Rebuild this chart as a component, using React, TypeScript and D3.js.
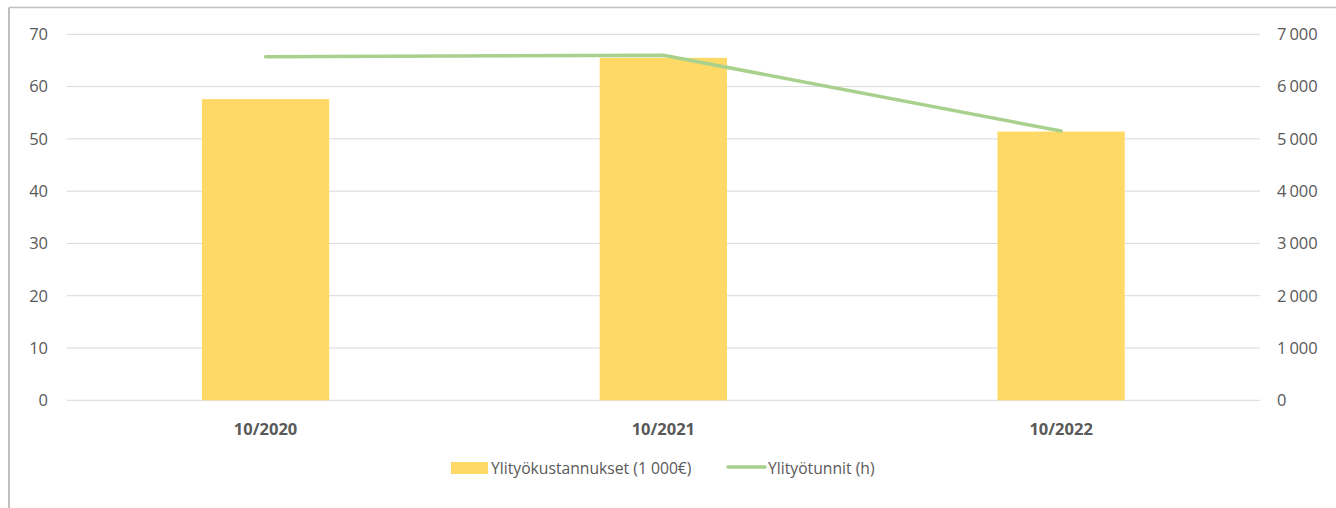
import React from 'react';
import * as d3 from 'd3';

const categories = ['10/2020', '10/2021', '10/2022'];
const costs = [57.6, 65.5, 51.4];
const hours = [6570, 6600, 5150];
const leftTicks = [0, 10, 20, 30, 40, 50, 60, 70];
const rightTicks = [0, 1000, 2000, 3000, 4000, 5000, 6000, 7000];
const seriesNames = ['Ylityökustannukset (1 000€)', 'Ylityötunnit (h)'];

const W = 1336;
const H = 508;
const FONT = "'Segoe UI', 'Open Sans', 'Noto Sans', sans-serif";
const GREY = '#595959';

export default function App() {
  const left = 66.7, right = 1260, top = 34.3, bottom = 400.3;

  const x = d3.scaleBand().domain(categories).range([left, right]).paddingInner(0.68).paddingOuter(0.34);
  const yL = d3.scaleLinear().domain([0, 70]).range([bottom, top]);
  const yR = d3.scaleLinear().domain([0, 7000]).range([bottom, top]);

  const line = d3.line<number>()
    .x((_, i) => x(categories[i])! + x.bandwidth() / 2)
    .y(d => yR(d));

  // thousands part split off so the gap can be a bit wider, like the original
  const rightLabel = (t: number) => {
    if (t < 1000) return <tspan>{t}</tspan>;
    const head = Math.floor(t / 1000);
    const tail = d3.format('03')(t % 1000);
    return (<><tspan>{head}</tspan><tspan dx={3}>{tail}</tspan></>);
  };

  return (
    <svg width={W} height={H} style={{ position: 'absolute', left: 0, top: 0 }} fontFamily={FONT}>
      <rect x={0} y={0} width={W} height={H} fill="#fff" />
      <line x1={9} x2={W} y1={7.5} y2={7.5} stroke="#bfbfbf" strokeWidth={1.5} />
      <line x1={9} x2={9} y1={7.5} y2={H} stroke="#bfbfbf" strokeWidth={2} />

      {leftTicks.map(t => (
        <g key={t}>
          <line x1={left} x2={right} y1={yL(t)} y2={yL(t)} stroke="#d9d9d9" strokeWidth={1} />
          <text x={48} y={yL(t)} dy="0.35em" textAnchor="end" fontSize={16.5} fill={GREY}>{t}</text>
        </g>
      ))}
      {rightTicks.map(t => (
        <text key={t} x={1277} y={yR(t)} dy="0.35em" textAnchor="start" fontSize={16.5} fill={GREY}>{rightLabel(t)}</text>
      ))}

      {categories.map((c, i) => (
        <rect key={c} x={x(c)} y={yL(costs[i])} width={x.bandwidth()} height={bottom - yL(costs[i])} fill="#ffd966" />
      ))}

      <path d={line(hours) || ''} fill="none" stroke="#a9d18e" strokeWidth={3.5} strokeLinecap="round" strokeLinejoin="round" />

      {categories.map(c => (
        <text key={c} x={x(c)! + x.bandwidth() / 2} y={435} textAnchor="middle" fontSize={16.5} fontWeight="bold" fill={GREY}>{c}</text>
      ))}

      <rect x={451} y={462} width={37} height={12} fill="#ffd966" />
      <text x={491} y={473.5} fontSize={15.7} fill={GREY}>{seriesNames[0]}</text>
      <line x1={728} x2={765} y1={467} y2={467} stroke="#a9d18e" strokeWidth={3.5} strokeLinecap="round" />
      <text x={768} y={473.5} fontSize={15.7} fill={GREY}>{seriesNames[1]}</text>
    </svg>
  );
}
